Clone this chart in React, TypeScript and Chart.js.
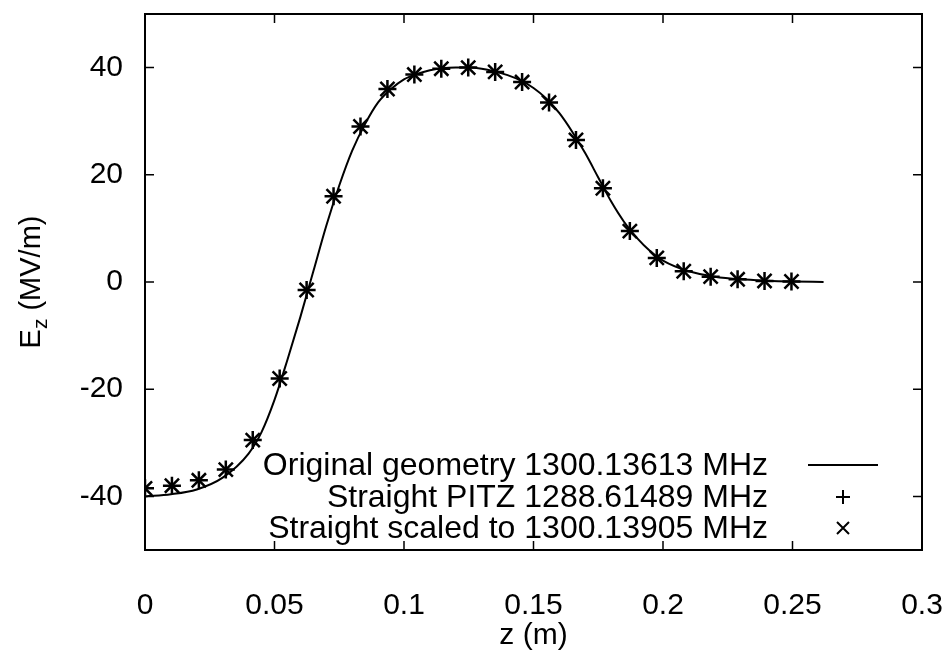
import React, { useEffect, useRef } from 'react';
import { Chart, registerables } from 'chart.js';
Chart.register(...registerables);

const curveZ = [0, 0.01, 0.02, 0.03, 0.04, 0.045, 0.05, 0.055, 0.06, 0.065, 0.07, 0.075, 0.08, 0.085, 0.09, 0.095, 0.1, 0.105, 0.11, 0.115, 0.12, 0.125, 0.13, 0.135, 0.14, 0.145, 0.15, 0.155, 0.16, 0.165, 0.17, 0.175, 0.18, 0.185, 0.19, 0.195, 0.2, 0.21, 0.22, 0.23, 0.24, 0.25, 0.262];
const curveEz = [-40, -39.6, -38.7, -36.5, -32, -28, -22, -14.5, -6.5, 2, 10.5, 18, 24.5, 29.5, 33.5, 36, 37.8, 38.8, 39.5, 39.9, 40, 40, 39.8, 39.3, 38.6, 37.6, 36.2, 34.2, 31.5, 28, 24, 19.5, 15, 11.2, 8.2, 5.8, 4, 2, 1, 0.5, 0.25, 0.1, 0];

const markerZ = [0, 0.0104, 0.0208, 0.0312, 0.0416, 0.052, 0.0624, 0.0728, 0.0832, 0.0936, 0.104, 0.1144, 0.1248, 0.1352, 0.1456, 0.156, 0.1664, 0.1768, 0.1872, 0.1976, 0.208, 0.2184, 0.2288, 0.2392, 0.2496];
const pitzEz = [-38.5, -38, -37, -35, -29.5, -18, -1.5, 16, 29, 36, 38.7, 39.8, 40, 39.2, 37.3, 33.5, 26.5, 17.5, 9.5, 4.5, 2, 1, 0.5, 0.2, 0.1];
const scaledEz = [-38.5, -38, -37, -35, -29.5, -18, -1.5, 16, 29, 36, 38.7, 39.8, 40, 39.2, 37.3, 33.5, 26.5, 17.5, 9.5, 4.5, 2, 1, 0.5, 0.2, 0.1];

const xTicks = [0, 0.05, 0.1, 0.15, 0.2, 0.25, 0.3];
const yTicks = [-40, -20, 0, 20, 40];
const seriesLabels = [
  'Original geometry 1300.13613 MHz',
  'Straight PITZ 1288.61489 MHz',
  'Straight scaled to 1300.13905 MHz',
];
const xTitle = 'z (m)';

const FONT = '"Liberation Sans", Arial, Helvetica, sans-serif';

const framePlugin = {
  id: 'frame',
  afterDraw(chart: any) {
    const { ctx, chartArea: a, scales } = chart;
    ctx.save();
    ctx.strokeStyle = '#000';
    ctx.lineWidth = 2;
    ctx.strokeRect(a.left, a.top, a.right - a.left, a.bottom - a.top);
    const tl = 9;
    ctx.lineWidth = 1.5;
    ctx.beginPath();
    for (const v of xTicks) {
      const px = scales.x.getPixelForValue(v);
      ctx.moveTo(px, a.bottom); ctx.lineTo(px, a.bottom - tl);
      ctx.moveTo(px, a.top); ctx.lineTo(px, a.top + tl);
    }
    for (const v of yTicks) {
      const py = scales.y.getPixelForValue(v);
      ctx.moveTo(a.left, py); ctx.lineTo(a.left + tl, py);
      ctx.moveTo(a.right, py); ctx.lineTo(a.right - tl, py);
    }
    ctx.stroke();

    // legend
    const textRight = a.left + 623;
    const rows = [a.bottom - 85, a.bottom - 53, a.bottom - 22];
    ctx.font = `32px ${FONT}`;
    ctx.fillStyle = '#000';
    ctx.textAlign = 'right';
    ctx.textBaseline = 'middle';
    seriesLabels.forEach((t, i) => ctx.fillText(t, textRight, rows[i] + 1));
    const sx = textRight + 75;
    ctx.lineWidth = 2;
    ctx.beginPath();
    ctx.moveTo(sx - 35, rows[0]); ctx.lineTo(sx + 35, rows[0]);
    ctx.stroke();
    const r = 7;
    ctx.beginPath();
    ctx.moveTo(sx - r, rows[1]); ctx.lineTo(sx + r, rows[1]);
    ctx.moveTo(sx, rows[1] - r); ctx.lineTo(sx, rows[1] + r);
    const d = 6;
    ctx.moveTo(sx - d, rows[2] - d); ctx.lineTo(sx + d, rows[2] + d);
    ctx.moveTo(sx - d, rows[2] + d); ctx.lineTo(sx + d, rows[2] - d);
    ctx.stroke();

    // x title
    ctx.textAlign = 'center';
    ctx.font = `30px ${FONT}`;
    ctx.fillText(xTitle, (a.left + a.right) / 2, 636);

    // y title with subscript
    ctx.translate(32, (a.top + a.bottom) / 2);
    ctx.rotate(-Math.PI / 2);
    const big = `29px ${FONT}`;
    const small = `21px ${FONT}`;
    ctx.font = big; const wE = ctx.measureText('E').width;
    ctx.font = small; const wz = ctx.measureText('z').width;
    ctx.font = big; const wRest = ctx.measureText(' (MV/m)').width;
    let x0 = -(wE + wz + wRest) / 2;
    ctx.textAlign = 'left';
    ctx.font = big; ctx.fillText('E', x0, 0); x0 += wE;
    ctx.font = small; ctx.fillText('z', x0, 9); x0 += wz;
    ctx.font = big; ctx.fillText(' (MV/m)', x0, 0);
    ctx.restore();
  },
};

export default function App() {
  const ref = useRef<HTMLCanvasElement | null>(null);
  useEffect(() => {
    if (!ref.current) return;
    Chart.defaults.font.family = FONT;
    const chart = new Chart(ref.current, {
      type: 'scatter',
      data: {
        datasets: [
          {
            label: seriesLabels[0],
            data: curveZ.map((z, i) => ({ x: z, y: curveEz[i] })),
            showLine: true,
            borderColor: '#000',
            borderWidth: 2,
            pointRadius: 0,
            cubicInterpolationMode: 'monotone',
          },
          {
            label: seriesLabels[1],
            data: markerZ.map((z, i) => ({ x: z, y: pitzEz[i] })),
            pointStyle: 'cross',
            pointRadius: 9,
            borderColor: '#000',
            backgroundColor: '#000',
            pointBorderWidth: 2.5,
          },
          {
            label: seriesLabels[2],
            data: markerZ.map((z, i) => ({ x: z, y: scaledEz[i] })),
            pointStyle: 'crossRot',
            pointRadius: 10,
            borderColor: '#000',
            backgroundColor: '#000',
            pointBorderWidth: 2.5,
          },
        ],
      },
      options: {
        animation: false,
        responsive: false,
        layout: { autoPadding: false, padding: { top: 14, right: 23, left: 0, bottom: 0 } },
        plugins: { legend: { display: false }, tooltip: { enabled: false } },
        scales: {
          x: {
            type: 'linear',
            min: 0,
            max: 0.3,
            afterBuildTicks: (s: any) => { s.ticks = xTicks.map((v) => ({ value: v })); },
            afterFit: (s: any) => { s.height = 100; s.paddingLeft = 0; s.paddingRight = 0; },
            grid: { display: false, drawTicks: false },
            border: { display: false },
            ticks: { color: '#000', font: { size: 30 }, padding: 38, maxRotation: 0, callback: (v: any) => String(v) },
          },
          y: {
            type: 'linear',
            min: -50,
            max: 50,
            afterBuildTicks: (s: any) => { s.ticks = yTicks.map((v) => ({ value: v })); },
            afterFit: (s: any) => { s.width = 145; s.paddingTop = 0; s.paddingBottom = 0; },
            grid: { display: false, drawTicks: false },
            border: { display: false },
            ticks: { color: '#000', font: { size: 30 }, padding: 22, callback: (v: any) => String(v) },
          },
        },
      },
      plugins: [framePlugin],
    });
    return () => chart.destroy();
  }, []);
  return (
    <div style={{ position: 'fixed', left: 0, top: 0, width: 945, height: 650, background: '#fff' }}>
      <canvas ref={ref} width={945} height={650} style={{ width: 945, height: 650 }} />
    </div>
  );
}
